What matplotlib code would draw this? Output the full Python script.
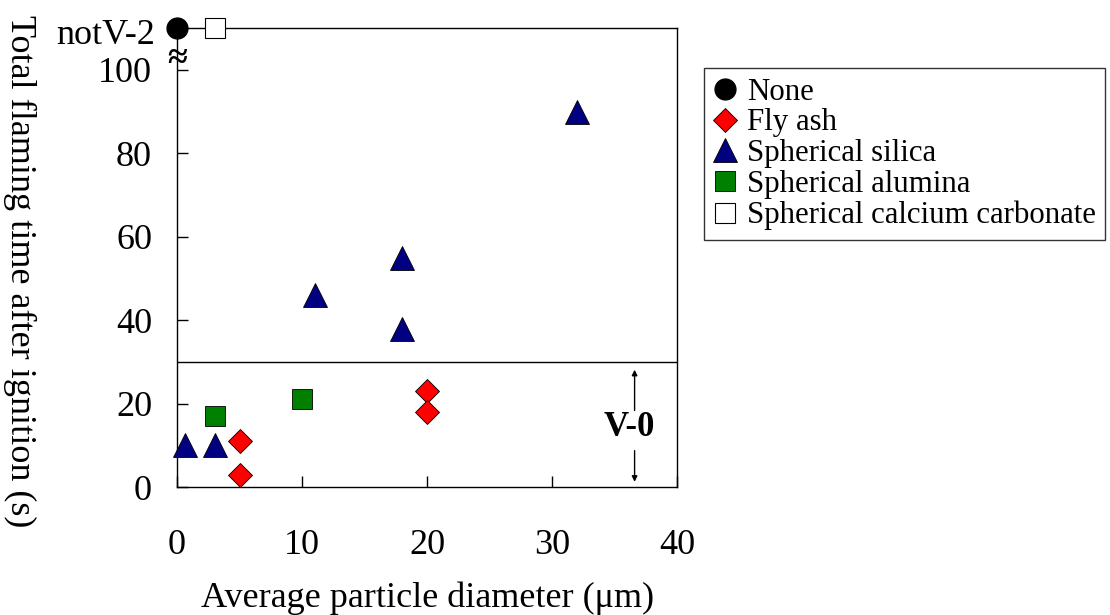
import matplotlib
matplotlib.use("Agg")
import matplotlib.pyplot as plt

plt.rcParams["font.family"] = ["Liberation Serif", "DejaVu Serif"]

# Data
none_x = [0]
none_y = [110]
flyash_x = [5, 5, 20, 20]
flyash_y = [11, 3, 23, 18]
silica_x = [0.6, 3, 11, 18, 18, 32]
silica_y = [10, 10, 46, 55, 38, 90]
alumina_x = [3, 10]
alumina_y = [17, 21]
caco3_x = [3]
caco3_y = [110]

y_ticks = [0, 20, 40, 60, 80, 100, 110]
y_tick_labels = ["0", "20", "40", "60", "80", "100", ""]
not_v2_label = "notV-2"
x_ticks = [0, 10, 20, 30, 40]
v0_limit = 30

fig = plt.figure(figsize=(11.1, 6.15), dpi=100)
ax = fig.add_axes([0.1595, 0.208, 0.4505, 0.746])

ax.plot(none_x, none_y, "o", ms=15, color="black", mec="black", label="None", clip_on=False, zorder=5)
ax.plot(flyash_x, flyash_y, "D", ms=12, color="red", mec="black", mew=0.6, label="Fly ash", clip_on=False, zorder=5)
ax.plot(silica_x, silica_y, "^", ms=17, color="#000080", mec="black", mew=0.6, label="Spherical silica", clip_on=False, zorder=5)
ax.plot(alumina_x, alumina_y, "s", ms=14, color="#008000", mec="black", mew=0.6, label="Spherical alumina", clip_on=False, zorder=5)
ax.plot(caco3_x, caco3_y, "s", ms=14, color="white", mec="black", mew=0.8, label="Spherical calcium carbonate", clip_on=False, zorder=5)

ax.axhline(v0_limit, color="black", lw=1)

ax.set_xlim(0, 40)
ax.set_ylim(0, 110)
ax.set_xticks(x_ticks)
ax.set_yticks(y_ticks)
ax.set_yticklabels(y_tick_labels)
ax.tick_params(direction="in", length=8, width=1, labelsize=26)
ax.tick_params(axis="x", pad=30)
ax.tick_params(axis="y", pad=18)
for s in ax.spines.values():
    s.set_linewidth(1)

# the "notV-2" level label, sitting a little below the top line
ax.text(-0.044, 108.2, not_v2_label, fontsize=26, ha="right", va="center",
        transform=ax.get_yaxis_transform())

# axis break mark
ax.text(0, 102.4, "≈", fontsize=26, fontweight="bold", ha="center", va="center", zorder=4)

# V-0 region annotation
ax.annotate("", xy=(36.6, 28.8), xytext=(36.6, 17.7),
            arrowprops=dict(arrowstyle="-|>", color="black", lw=1, mutation_scale=8))
ax.annotate("", xy=(36.6, 0.6), xytext=(36.6, 9.4),
            arrowprops=dict(arrowstyle="-|>", color="black", lw=1, mutation_scale=8))
ax.text(36.2, 14.3, "V-0", fontsize=25, fontweight="bold", ha="center", va="center")

ax.set_xlabel("Average particle diameter (μm)", fontsize=26, labelpad=14)
ax.set_ylabel("Total flaming time after ignition (s)", fontsize=26, rotation=270, va="center")
ax.yaxis.set_label_coords(-0.314, 0.47)

leg = fig.legend(loc="upper left", bbox_to_anchor=(0.634, 0.889), fontsize=22.2,
                 frameon=True, fancybox=False, edgecolor="black", handlelength=0.8,
                 handletextpad=0.3, borderpad=0.3, labelspacing=0.06, borderaxespad=0)
leg.get_frame().set_linewidth(1)

fig.savefig("out.png", dpi=100)
